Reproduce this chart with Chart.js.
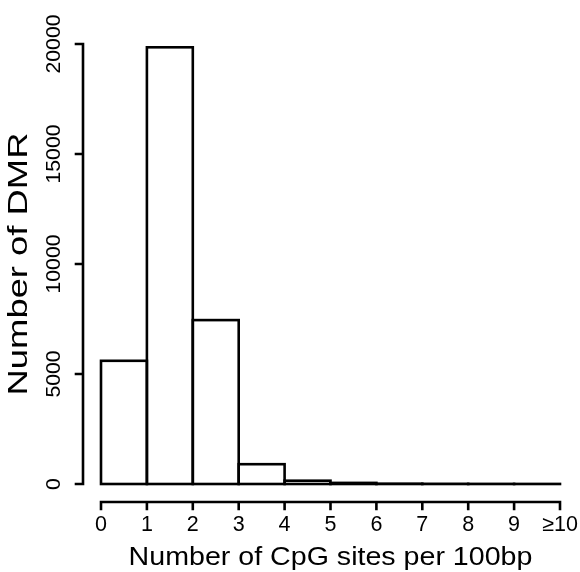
<!DOCTYPE html>
<html lang="en">
<head>
    <meta charset="UTF-8">
    <title>CpG density of DMR</title>
    <style>
        body {
            margin: 0;
            padding: 0;
            background: #fff;
        }
        canvas {
            display: block;
        }
    </style>
    <script src="https://cdn.jsdelivr.net/npm/chart.js"></script>
</head>
<body>
    <canvas id="histChart" width="580" height="572"></canvas>
    <script>
        // bins of CpG sites per 100bp: [0,1), [1,2), ... , >=9 up to 10
        const binStarts = [0, 1, 2, 3, 4, 5, 6, 7, 8, 9];
        const dmrCounts = [5600, 19850, 7450, 900, 150, 50, 15, 8, 5, 3];
        const xTicks = [0, 1, 2, 3, 4, 5, 6, 7, 8, 9, 10];
        const xTickLabels = ['0', '1', '2', '3', '4', '5', '6', '7', '8', '9', '\u226510'];
        const yTicks = [0, 5000, 10000, 15000, 20000];

        const FONT = '"Liberation Sans", Arial, sans-serif';
        const LW = 2.6;

        // text with optional widening along its reading direction
        function label(ctx, text, x, y, size, rotated, widen) {
            ctx.save();
            ctx.font = size + 'px ' + FONT;
            ctx.translate(x, y);
            if (rotated) ctx.rotate(-Math.PI / 2);
            ctx.scale(widen || 1, 1);
            ctx.fillText(text, 0, 0);
            ctx.restore();
        }

        // histogram outlines: one stroke per bin, so neighbours share an edge
        const binOutlines = {
            id: 'binOutlines',
            afterDatasetsDraw(chart) {
                const ctx = chart.ctx;
                const meta = chart.getDatasetMeta(0);
                ctx.save();
                ctx.strokeStyle = '#000';
                ctx.lineWidth = LW;
                meta.data.forEach(bar => {
                    const left = bar.x - bar.width / 2;
                    ctx.strokeRect(left, bar.y, bar.width, bar.base - bar.y);
                });
                ctx.restore();
            }
        };

        // R-style detached axes drawn from the chart's own scales
        const baseAxes = {
            id: 'baseAxes',
            afterDraw(chart) {
                const ctx = chart.ctx;
                const xs = chart.scales.x;
                const ys = chart.scales.y;
                ctx.save();
                ctx.strokeStyle = '#000';
                ctx.fillStyle = '#000';
                ctx.lineWidth = LW;
                ctx.lineCap = 'square';

                // y axis
                const ax = 83;
                ctx.beginPath();
                ctx.moveTo(ax, ys.getPixelForValue(yTicks[0]));
                ctx.lineTo(ax, ys.getPixelForValue(yTicks[yTicks.length - 1]));
                yTicks.forEach(v => {
                    const py = ys.getPixelForValue(v);
                    ctx.moveTo(ax, py);
                    ctx.lineTo(ax - 7, py);
                });
                ctx.stroke();
                ctx.textAlign = 'center';
                ctx.textBaseline = 'alphabetic';
                yTicks.forEach(v => {
                    label(ctx, String(v), 60, ys.getPixelForValue(v), 20, true, 1.06);
                });

                // x axis
                const ay = 502;
                ctx.beginPath();
                ctx.moveTo(xs.getPixelForValue(xTicks[0]), ay);
                ctx.lineTo(xs.getPixelForValue(xTicks[xTicks.length - 1]), ay);
                xTicks.forEach(v => {
                    const px = xs.getPixelForValue(v);
                    ctx.moveTo(px, ay);
                    ctx.lineTo(px, ay + 7);
                });
                ctx.stroke();
                xTicks.forEach((v, i) => {
                    label(ctx, xTickLabels[i], xs.getPixelForValue(v), 531, 21.5, false, 1);
                });

                // axis titles
                label(ctx, 'Number of CpG sites per 100bp', (xs.left + xs.right) / 2, 565, 26, false, 1.1);
                label(ctx, 'Number of DMR', 27, (ys.top + ys.bottom) / 2, 28, true, 1.3);
                ctx.restore();
            }
        };

        const ctx = document.getElementById('histChart').getContext('2d');
        new Chart(ctx, {
            type: 'bar',
            data: {
                datasets: [{
                    label: 'DMR',
                    data: binStarts.map((b, i) => ({ x: b + 0.5, y: dmrCounts[i] })),
                    backgroundColor: '#fff',
                    borderWidth: 0,
                    barPercentage: 1,
                    categoryPercentage: 1
                }]
            },
            options: {
                responsive: false,
                animation: false,
                layout: {
                    padding: { left: 101, right: 20, top: 44, bottom: 88 }
                },
                plugins: {
                    legend: { display: false },
                    tooltip: { enabled: false }
                },
                scales: {
                    x: {
                        type: 'linear',
                        min: 0,
                        max: 10,
                        offset: false,
                        display: false
                    },
                    y: {
                        min: 0,
                        max: 20000,
                        display: false
                    }
                }
            },
            plugins: [binOutlines, baseAxes]
        });
    </script>
</body>
</html>
